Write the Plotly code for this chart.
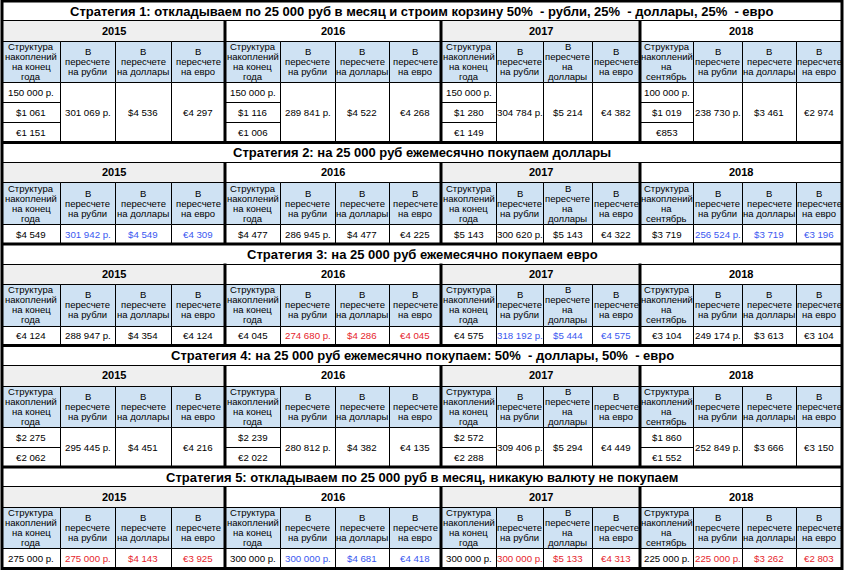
import plotly.graph_objects as go

font_family = "Arial, Liberation Sans, sans-serif"

titles = [
    "Стратегия 1: откладываем по 25 000 руб в месяц и строим корзину 50%\u00a0 - рубли, 25%\u00a0 - доллары, 25%\u00a0 - евро",
    "Стратегия 2: на 25 000 руб ежемесячно покупаем доллары",
    "Стратегия 3: на 25 000 руб ежемесячно покупаем евро",
    "Стратегия 4: на 25 000 руб ежемесячно покупаем: 50%\u00a0 - доллары, 50%\u00a0 - евро",
    "Стратегия 5: откладываем по 25 000 руб в месяц, никакую валюту не покупаем",
]
years = ["2015", "2016", "2017", "2018"]

hdr_struct = ["Структура<br>накоплений<br>на конец<br>года"] * 3 + ["Структура<br>накоплений<br>на<br>сентябрь"]
hdr_rub = ["В<br>пересчете<br>на рубли"] * 4
hdr_usd = ["В<br>пересчете<br>на доллары", "В<br>пересчете<br>на доллары",
           "В<br>пересчете<br>на<br>доллары", "В<br>пересчете<br>на доллары"]
hdr_eur = ["В<br>пересчете<br>на евро"] * 4

# стратегия 1
struct_1 = [["150 000 р.", "$1 061", "€1 151"], ["150 000 р.", "$1 116", "€1 006"],
            ["150 000 р.", "$1 280", "€1 149"], ["100 000 р.", "$1 019", "€853"]]
rub_1 = ["301 069 р.", "289 841 р.", "304 784 р.", "238 730 р."]
usd_1 = ["$4 536", "$4 522", "$5 214", "$3 461"]
eur_1 = ["€4 297", "€4 268", "€4 382", "€2 974"]
hl_1 = ["", "", "", ""]

# стратегия 2
struct_2 = [["$4 549"], ["$4 477"], ["$5 143"], ["$3 719"]]
rub_2 = ["301 942 р.", "286 945 р.", "300 620 р.", "256 524 р."]
usd_2 = ["$4 549", "$4 477", "$5 143", "$3 719"]
eur_2 = ["€4 309", "€4 225", "€4 322", "€3 196"]
hl_2 = ["blue", "", "", "blue"]

# стратегия 3
struct_3 = [["€4 124"], ["€4 045"], ["€4 575"], ["€3 104"]]
rub_3 = ["288 947 р.", "274 680 р.", "318 192 р.", "249 174 р."]
usd_3 = ["$4 354", "$4 286", "$5 444", "$3 613"]
eur_3 = ["€4 124", "€4 045", "€4 575", "€3 104"]
hl_3 = ["", "red", "blue", ""]

# стратегия 4
struct_4 = [["$2 275", "€2 062"], ["$2 239", "€2 022"], ["$2 572", "€2 288"], ["$1 860", "€1 552"]]
rub_4 = ["295 445 р.", "280 812 р.", "309 406 р.", "252 849 р."]
usd_4 = ["$4 451", "$4 382", "$5 294", "$3 666"]
eur_4 = ["€4 216", "€4 135", "€4 449", "€3 150"]
hl_4 = ["", "", "", ""]

# стратегия 5
struct_5 = [["275 000 р."], ["300 000 р."], ["300 000 р."], ["225 000 р."]]
rub_5 = ["275 000 р.", "300 000 р.", "300 000 р.", "225 000 р."]
usd_5 = ["$4 143", "$4 681", "$5 133", "$3 262"]
eur_5 = ["€3 925", "€4 418", "€4 313", "€2 803"]
hl_5 = ["red", "blue", "red", "red"]

blocks = [
    (struct_1, rub_1, usd_1, eur_1, hl_1),
    (struct_2, rub_2, usd_2, eur_2, hl_2),
    (struct_3, rub_3, usd_3, eur_3, hl_3),
    (struct_4, rub_4, usd_4, eur_4, hl_4),
    (struct_5, rub_5, usd_5, eur_5, hl_5),
]

# геометрия
col_w = [58, 55, 56, 54, 55, 55, 54, 52, 55, 47, 49, 48, 53, 49, 54, 46]
x_left = 2
xs = [x_left]
for w in col_w:
    xs.append(xs[-1] + w)
h_title, h_year, h_head, h_data = 19.5, 20.5, 41.5, 20
y_top = 1
line_sp = 10

colors = {"": "black", "blue": "#3a58f0", "red": "#e61e2c"}
gray_year = "#efefef"
blue_head = "#cfe2f3"

shapes, annots = [], []


def px(v):
    # чёткие 1px линии
    return round(v) + 0.5


def cell(x0, x1, y0, y1, fill):
    shapes.append(dict(type="rect", x0=px(x0), x1=px(x1), y0=px(y0), y1=px(y1), fillcolor=fill,
                       line=dict(color="black", width=1), layer="below"))


def text(x, y, s, size=9.7, bold=False, color="black"):
    if bold:
        s = "<b>" + s + "</b>"
    annots.append(dict(x=x, y=y, text=s, showarrow=False, xanchor="center", yanchor="middle",
                       font=dict(family=font_family, size=size, color=color)))


def multiline(x, yc, s, size=9.5):
    parts = s.split("<br>")
    n = len(parts)
    for k, p in enumerate(parts):
        text(x, yc + (k - (n - 1) / 2) * line_sp, p, size=size)


thick = []
y = y_top
for b, (struct, rub, usd, eur, hl) in enumerate(blocks):
    n = len(struct[0])
    # заголовок стратегии
    cell(xs[0], xs[-1], y, y + h_title, "white")
    text((xs[0] + xs[-1]) / 2, y + h_title / 2 + 0.5, titles[b], size=13, bold=True)
    y_year = y + h_title
    y_head = y_year + h_year
    y_data = y_head + h_head
    y_end = y_data + n * h_data
    for j in range(4):
        c = 4 * j
        cell(xs[c], xs[c + 4], y_year, y_head, gray_year if j % 2 == 0 else "white")
        text((xs[c] + xs[c + 4]) / 2, (y_year + y_head) / 2, years[j], size=11, bold=True)
        heads = [hdr_struct[j], hdr_rub[j], hdr_usd[j], hdr_eur[j]]
        for k in range(4):
            cell(xs[c + k], xs[c + k + 1], y_head, y_data, blue_head)
            multiline((xs[c + k] + xs[c + k + 1]) / 2, (y_head + y_data) / 2, heads[k])
        # структура накоплений
        for r in range(n):
            cell(xs[c], xs[c + 1], y_data + r * h_data, y_data + (r + 1) * h_data, "white")
            text((xs[c] + xs[c + 1]) / 2, y_data + (r + 0.5) * h_data, struct[j][r])
        vals = [rub[j], usd[j], eur[j]]
        for k in range(3):
            cell(xs[c + k + 1], xs[c + k + 2], y_data, y_end, "white")
            text((xs[c + k + 1] + xs[c + k + 2]) / 2, (y_data + y_end) / 2, vals[k],
                 color=colors[hl[j]])
    # толстые линии
    for j in (1, 2, 3):
        thick.append(dict(type="line", x0=xs[4 * j], x1=xs[4 * j], y0=y_year, y1=y_end,
                          line=dict(color="black", width=3)))
    thick.append(dict(type="line", x0=xs[0], x1=xs[-1], y0=y_end, y1=y_end,
                      line=dict(color="black", width=3)))
    y = y_end

thick.append(dict(type="rect", x0=xs[0], x1=xs[-1], y0=y_top, y1=y,
                  line=dict(color="black", width=3)))

fig = go.Figure()
fig.update_layout(
    width=845, height=570,
    margin=dict(l=0, r=0, t=0, b=0),
    paper_bgcolor="white", plot_bgcolor="white",
    xaxis=dict(range=[0, 845], visible=False, fixedrange=True),
    yaxis=dict(range=[570, 0], visible=False, fixedrange=True),
    shapes=shapes + thick,
    annotations=annots,
    font=dict(family=font_family),
    showlegend=False,
)
fig.write_html("out.html", config={"displayModeBar": False},
               post_script="document.body.style.margin='0';")
